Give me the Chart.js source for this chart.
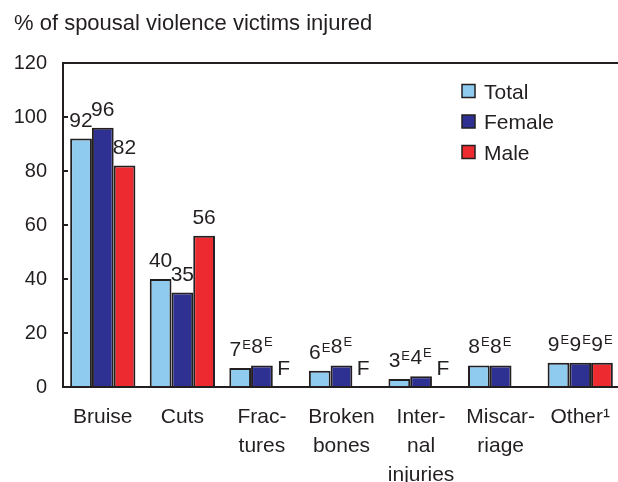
<!DOCTYPE html>
<html lang="en">
<head>
    <meta charset="UTF-8">
    <title>Spousal violence injuries</title>
    <script src="https://cdn.jsdelivr.net/npm/chart.js"></script>
    <style>
        html, body {
            margin: 0;
            padding: 0;
            background: #ffffff;
            overflow: hidden;
        }
        #injuryChart {
            display: block;
        }
    </style>
</head>
<body>
<!-- plot runs slightly past the right edge, like the original -->
<canvas id="injuryChart" width="620" height="482"></canvas>
<script>
    const categories = [
        ['Bruise'], ['Cuts'], ['Frac-', 'tures'], ['Broken', 'bones'],
        ['Inter-', 'nal', 'injuries'], ['Miscar-', 'riage'], ['Other\u00b9']
    ];
    const totalValues = [92, 40, 7, 6, 3, 8, 9];
    const femaleValues = [96, 35, 8, 8, 4, 8, 9];
    const maleValues = [82, 56, null, null, null, null, 9];

    // E = use with caution, F = too unreliable to be published
    const totalLabels = ['92', '40', '7E', '6E', '3E', '8E', '9E'];
    const femaleLabels = ['96', '35', '8E', '8E', '4E', '8E', '9E'];
    const maleLabels = ['82', '56', 'F', 'F', 'F', '', '9E'];

    const yTicks = [0, 20, 40, 60, 80, 100, 120];
    const titleText = '% of spousal violence victims injured';

    const ink = '#231f20';
    const fontFamily = '"Liberation Sans", Arial, sans-serif';

    const labelSets = [totalLabels, femaleLabels, maleLabels];

    // value labels above bars, with the superscript E
    const barLabels = {
        id: 'barLabels',
        afterDatasetsDraw(chart) {
            const ctx = chart.ctx;
            const yScale = chart.scales.y;
            ctx.save();
            ctx.fillStyle = ink;
            ctx.textBaseline = 'alphabetic';
            ctx.textAlign = 'left';
            chart.data.datasets.forEach((ds, di) => {
                const meta = chart.getDatasetMeta(di);
                meta.data.forEach((bar, i) => {
                    const txt = labelSets[di][i];
                    if (!txt) return;
                    const v = ds.data[i] == null ? 0 : ds.data[i];
                    const base = yScale.getPixelForValue(v) - 12;
                    let main = txt, sup = '';
                    if (txt.endsWith('E')) {
                        main = txt.slice(0, -1);
                        sup = 'E';
                    }
                    ctx.font = '21px ' + fontFamily;
                    const wMain = ctx.measureText(main).width;
                    ctx.font = '13px ' + fontFamily;
                    const wSup = sup ? ctx.measureText(sup).width + 1 : 0;
                    const left = bar.x - (wMain + wSup) / 2;
                    ctx.font = '21px ' + fontFamily;
                    ctx.fillText(main, left, base);
                    if (sup) {
                        ctx.font = '13px ' + fontFamily;
                        ctx.fillText(sup, left + wMain + 1, base - 7);
                    }
                });
            });
            ctx.restore();
        }
    };

    // frame, inside tick marks, title and legend
    const decorations = {
        id: 'decorations',
        afterDraw(chart) {
            const ctx = chart.ctx;
            const a = chart.chartArea;
            const yScale = chart.scales.y;
            ctx.save();
            ctx.strokeStyle = ink;
            ctx.lineWidth = 2;
            ctx.strokeRect(a.left, a.top, a.right - a.left, a.bottom - a.top);
            yTicks.forEach(t => {
                const y = yScale.getPixelForValue(t);
                ctx.beginPath();
                ctx.moveTo(a.left, y);
                ctx.lineTo(a.left + 5, y);
                ctx.stroke();
            });

            ctx.fillStyle = ink;
            ctx.font = '22px ' + fontFamily;
            ctx.textAlign = 'left';
            ctx.textBaseline = 'alphabetic';
            ctx.fillText(titleText, 14, 30);

            // legend inside the plot, upper right
            ctx.font = '21px ' + fontFamily;
            chart.data.datasets.forEach((ds, di) => {
                const y = 91 + di * 30.5;
                ctx.fillStyle = ds.backgroundColor;
                ctx.fillRect(462, y - 6.5, 13, 13);
                ctx.lineWidth = 1.5;
                ctx.strokeRect(462, y - 6.5, 13, 13);
                ctx.fillStyle = ink;
                ctx.fillText(ds.label, 484, y + 7.5);
            });
            ctx.restore();
        }
    };

    new Chart(document.getElementById('injuryChart'), {
        type: 'bar',
        data: {
            labels: categories,
            datasets: [
                { label: 'Total', data: totalValues, backgroundColor: '#8ecbef' },
                { label: 'Female', data: femaleValues, backgroundColor: '#2e3192' },
                { label: 'Male', data: maleValues, backgroundColor: '#ec2a2f' }
            ]
        },
        options: {
            responsive: false,
            animation: false,
            devicePixelRatio: 1,
            layout: { padding: { top: 63, left: 0, right: 0, bottom: 0 } },
            datasets: {
                bar: {
                    borderColor: ink,
                    borderWidth: 2,
                    categoryPercentage: 0.82,
                    barPercentage: 1
                }
            },
            plugins: {
                legend: { display: false },
                tooltip: { enabled: false },
                title: { display: false }
            },
            scales: {
                x: {
                    grid: { display: false, drawTicks: false },
                    border: { display: false },
                    ticks: {
                        color: ink,
                        maxRotation: 0,
                        autoSkip: false,
                        padding: 16,
                        font: { family: fontFamily, size: 21, lineHeight: '29px' }
                    },
                    afterFit(scale) {
                        scale.height = 95;
                        scale.paddingRight = 0;
                    }
                },
                y: {
                    min: 0,
                    max: 120,
                    grid: { display: false, drawTicks: false },
                    border: { display: false },
                    ticks: {
                        stepSize: 20,
                        color: ink,
                        padding: 16,
                        font: { family: fontFamily, size: 20 }
                    },
                    afterFit(scale) { scale.width = 63; }
                }
            }
        },
        plugins: [barLabels, decorations]
    });
</script>
</body>
</html>
